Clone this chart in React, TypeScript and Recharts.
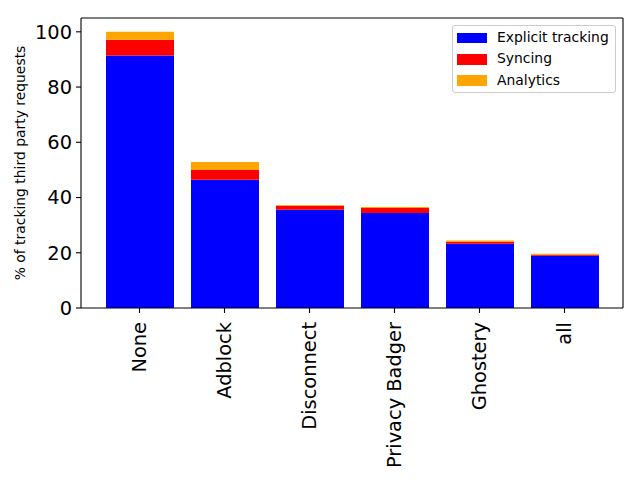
import { Bar, BarChart, CartesianGrid, XAxis, YAxis } from 'recharts';

const categories = ['None', 'Adblock', 'Disconnect', 'Privacy Badger', 'Ghostery', 'all'];
const explicitTracking = [91.4, 46.4, 35.6, 34.4, 23.3, 18.9];
const syncing = [5.7, 3.6, 1.4, 1.8, 0.7, 0.4];
const analytics = [2.9, 2.9, 0.3, 0.4, 0.4, 0.3];
const yTicks = [0, 20, 40, 60, 80, 100];

const seriesKeys = ['explicit', 'syncing', 'analytics'];
const seriesNames = ['Explicit tracking', 'Syncing', 'Analytics'];
const seriesColors = ['#0000ff', '#ff0000', '#ffa500'];

const chartData = categories.map((name, i) => ({
  name,
  explicit: explicitTracking[i],
  syncing: syncing[i],
  analytics: analytics[i]
}));

const font = '"DejaVu Sans", sans-serif';

type GridArgs = { offset: { top: number; left: number; width: number; height: number } };

function RotatedTick({ x, y, payload }: { x?: number; y?: number; payload?: { value: string } }) {
  return (
    <text
      transform={`translate(${x},${y}) rotate(-90)`}
      textAnchor="end"
      dy="0.36em"
      fontSize={19.4}
      fontFamily={font}
      fill="#000"
    >
      {payload?.value}
    </text>
  );
}

function YAxisTitle({ viewBox }: { viewBox?: { x: number; y: number; width: number; height: number } }) {
  const cy = viewBox ? viewBox.y + viewBox.height / 2 : 163;
  return (
    <text
      transform={`translate(20,${cy}) rotate(-90)`}
      textAnchor="middle"
      dy="0.36em"
      fontSize={13.9}
      fontFamily={font}
      fill="#000"
    >
      % of tracking third party requests
    </text>
  );
}

function ChartLegend() {
  return (
    <div
      style={{
        position: 'absolute',
        left: 452,
        top: 25,
        width: 162,
        height: 66,
        border: '1px solid #cccccc',
        borderRadius: 3,
        background: 'rgba(255,255,255,0.8)',
        fontFamily: font,
        fontSize: 13.9,
        color: '#000'
      }}
    >
      {seriesNames.map((name, i) => (
        <div
          key={name}
          style={{
            position: 'absolute',
            left: 4,
            top: 1 + i * 21.3,
            height: 20,
            display: 'flex',
            alignItems: 'center',
            whiteSpace: 'nowrap'
          }}
        >
          <span style={{ display: 'inline-block', width: 30, height: 10.5, background: seriesColors[i], marginTop: 2 }} />
          <span style={{ marginLeft: 10 }}>{name}</span>
        </div>
      ))}
    </div>
  );
}

export default function App() {
  const tickStyle = { fontSize: 19.4, fontFamily: font, fill: '#000' };
  return (
    <div style={{ position: 'absolute', left: 0, top: 0, width: 640, height: 480, background: '#fff' }}>
      <BarChart
        width={640}
        height={480}
        data={chartData}
        margin={{ top: 18, right: 17, bottom: 12, left: 0 }}
        barSize={68}
        accessibilityLayer={false}
      >
        {/* top and right spines */}
        <CartesianGrid
          stroke="#000"
          strokeWidth={1.1}
          fill="none"
          syncWithTicks={false}
          horizontalCoordinatesGenerator={({ offset }: GridArgs) => [offset.top]}
          verticalCoordinatesGenerator={({ offset }: GridArgs) => [offset.left + offset.width]}
        />
        <XAxis
          dataKey="name"
          height={160}
          interval={0}
          padding={{ left: 16, right: 16 }}
          tick={<RotatedTick />}
          tickSize={5}
          tickMargin={9}
          axisLine={{ stroke: '#000', strokeWidth: 1.1 }}
          tickLine={{ stroke: '#000', strokeWidth: 1.1 }}
        />
        <YAxis
          width={81}
          domain={[0, 105]}
          ticks={yTicks}
          tick={tickStyle}
          tickSize={5}
          tickMargin={4}
          axisLine={{ stroke: '#000', strokeWidth: 1.1 }}
          tickLine={{ stroke: '#000', strokeWidth: 1.1 }}
          label={<YAxisTitle />}
        />
        {seriesKeys.map((key, i) => (
          <Bar
            key={key}
            dataKey={key}
            name={seriesNames[i]}
            stackId="stack"
            fill={seriesColors[i]}
            isAnimationActive={false}
          />
        ))}
      </BarChart>
      <ChartLegend />
    </div>
  );
}
